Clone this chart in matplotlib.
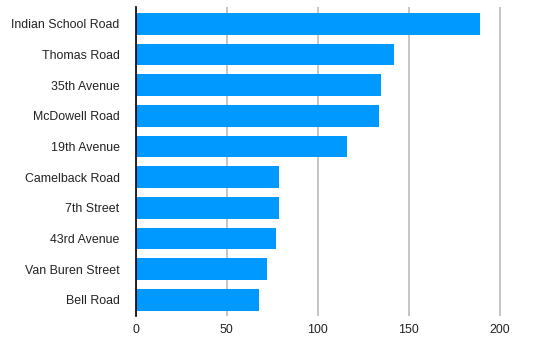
import matplotlib.pyplot as plt

plt.rcParams['font.family'] = ['Liberation Sans', 'DejaVu Sans']

# streets and their values, top to bottom
streets = ["Indian School Road", "Thomas Road", "35th Avenue", "McDowell Road",
           "19th Avenue", "Camelback Road", "7th Street", "43rd Avenue",
           "Van Buren Street", "Bell Road"]
values = [189, 142, 135, 134, 116, 79, 79, 77, 72, 68]
x_ticks = [0, 50, 100, 150, 200]

fig = plt.figure(figsize=(5.35, 3.54), dpi=100)
ax = fig.add_axes([0.2533, 0.107, 0.6974, 0.873])

positions = list(range(len(streets)))
ax.barh(positions, values, height=0.71, color="#0099FF", zorder=3)

ax.set_ylim(9.53, -0.55)
ax.set_xlim(0, 205)
ax.set_yticks(positions)
ax.set_yticklabels(streets, fontsize=8.9, color="#222222")
ax.set_xticks(x_ticks)
ax.set_xticklabels([str(t) for t in x_ticks], fontsize=8.9, color="#222222")

ax.grid(axis="x", color="#BBBBBB", linewidth=1.2, zorder=0)
ax.tick_params(axis="y", length=0, pad=11.5)
ax.tick_params(axis="x", length=0, pad=6)
for side in ["top", "right", "bottom"]:
    ax.spines[side].set_visible(False)
ax.spines["left"].set_color("black")
ax.spines["left"].set_linewidth(1.2)
ax.spines["left"].set_zorder(4)

plt.savefig("out.png", dpi=100)
